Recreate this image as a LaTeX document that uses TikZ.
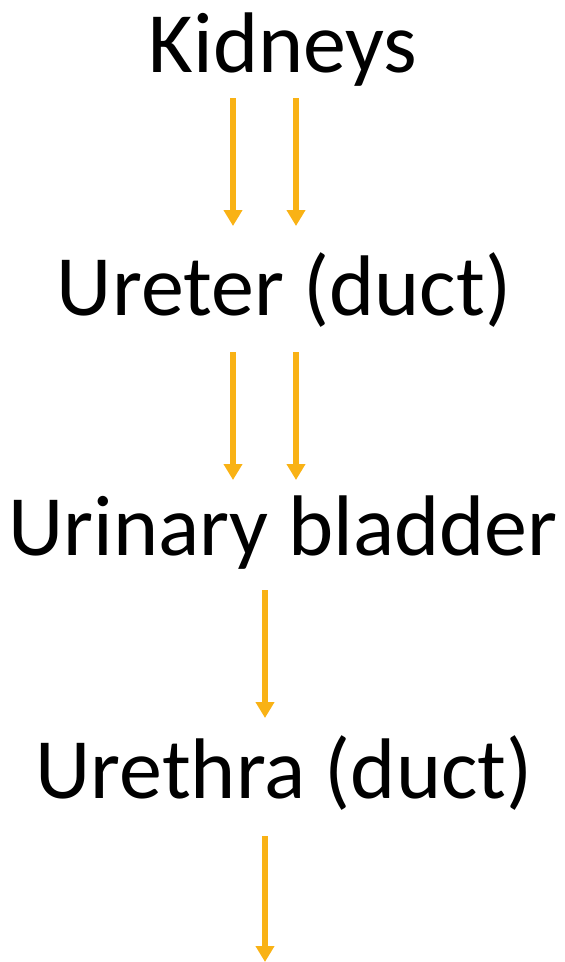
\documentclass[tikz,border=0pt]{standalone}
\usepackage{fontspec}
\setmainfont{Carlito}
\usetikzlibrary{arrows.meta}
\definecolor{arrowgold}{HTML}{F9B215}
\begin{document}
\begin{tikzpicture}[x=1pt,y=-1pt,
  label/.style={anchor=base,inner sep=0pt,font=\fontsize{86}{92}\selectfont},
  flow/.style={draw=arrowgold,line width=6pt,-{Triangle[width=18pt,length=16pt]}}]
\useasboundingbox (0,0) rectangle (565,962);
\node[label] (kid) at (283,72) {Kidneys};
\node[label] (ure) at (284,315) {Ureter (duct)};
\node[label] (bla) at (283,555) {Urinary bladder};
\node[label] (urt) at (284,798) {Urethra (duct)};
\coordinate (a1s) at (233,98);  \coordinate (a1e) at (233,226);
\coordinate (a2s) at (296,98);  \coordinate (a2e) at (296,226);
\coordinate (b1s) at (233,352); \coordinate (b1e) at (233,480);
\coordinate (b2s) at (296,352); \coordinate (b2e) at (296,480);
\coordinate (cs) at (265,590);  \coordinate (ce) at (265,718);
\coordinate (ds) at (265,836);  \coordinate (de) at (265,962);
\draw[flow] (a1s) -- (a1e);
\draw[flow] (a2s) -- (a2e);
\draw[flow] (b1s) -- (b1e);
\draw[flow] (b2s) -- (b2e);
\draw[flow] (cs) -- (ce);
\draw[flow] (ds) -- (de);
\end{tikzpicture}
\end{document}
